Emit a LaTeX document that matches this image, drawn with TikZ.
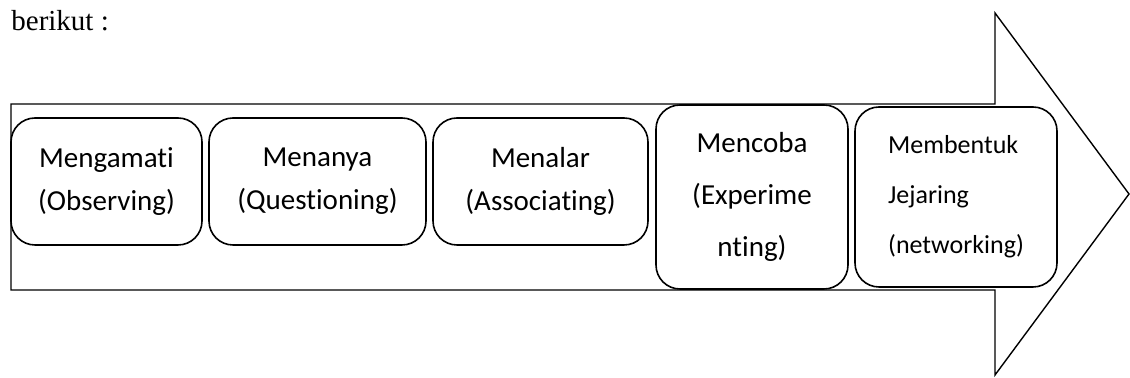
\documentclass[tikz,border=0pt]{standalone}
\usepackage{fontspec}
\setmainfont{Carlito}[Ligatures=NoCommon]
\newfontfamily\timesfont{Liberation Serif}

\begin{document}
\begin{tikzpicture}[x=0.5pt,y=0.5pt,
  tahap/.style={draw, fill=white, line width=0.8pt, rounded corners=12pt,
    align=center, inner sep=0pt, minimum height=63.5pt,
    font=\fontsize{14.5}{21.5}\selectfont}]
 \useasboundingbox (0,0) rectangle (1130,378);
 \node[anchor=base west, inner sep=0pt, font=\timesfont\fontsize{14.5}{17}\selectfont] (judul) at (11,347) {berikut :};
 % panah besar
 \draw[line width=0.7pt] (11,88)--(11,274)--(995,274)--(995,365)--(1129,184)--(995,3)--(995,88)--cycle;
 % tahapan
 \node[tahap, minimum width=95.5pt] (amati) at (106.5,196.5) {Mengamati\\(Observing)};
 \node[tahap, minimum width=108.5pt] (tanya) at (317.5,196.5) {Menanya\\(Questioning)};
 \node[tahap, minimum width=107.5pt] (nalar) at (540.5,196.5) {Menalar\\(Associating)};
 \node[tahap, minimum width=96pt, minimum height=92pt,
   font=\fontsize{14.5}{26}\selectfont] (coba) at (752,181) {Mencoba\\(Experime\\nting)};
 \node[tahap, minimum width=101pt, minimum height=90pt, align=left,
   font=\fontsize{13}{25}\selectfont] (jejaring) at (956,181) {Membentuk\\Jejaring\\(networking)};
\end{tikzpicture}
\end{document}
